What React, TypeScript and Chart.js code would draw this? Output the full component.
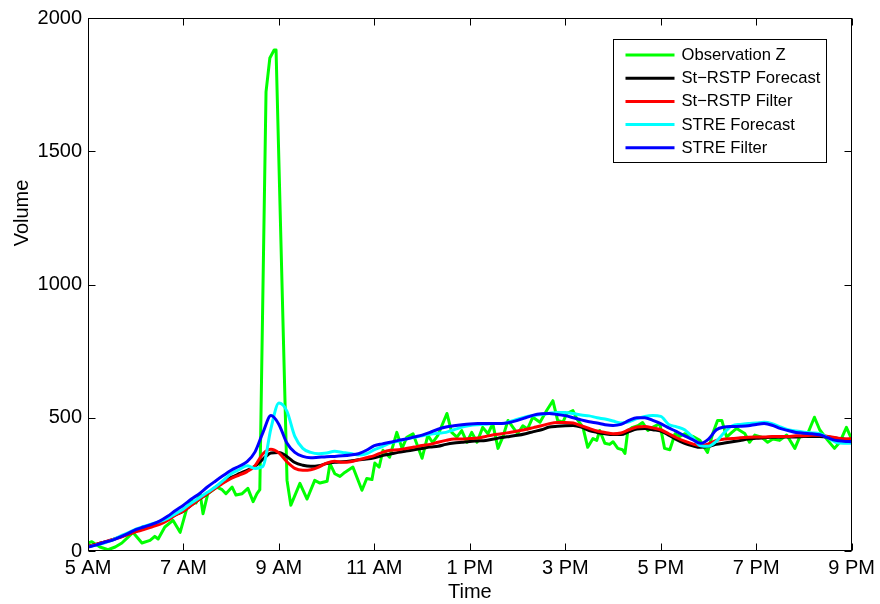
import { useEffect, useRef } from "react";
import { Chart, registerables } from "chart.js";

Chart.register(...registerables);

// ---- axis definitions ----
const xTickValues = [5, 7, 9, 11, 13, 15, 17, 19, 21];
const xTickLabels = ["5 AM", "7 AM", "9 AM", "11 AM", "1 PM", "3 PM", "5 PM", "7 PM", "9 PM"];
const yTickValues = [0, 500, 1000, 1500, 2000];

const seriesNames = ["Observation Z", "St\u2212RSTP Forecast", "St\u2212RSTP Filter", "STRE Forecast", "STRE Filter"];
const seriesColors = ["#00ff00", "#000000", "#ff0000", "#00ffff", "#0000ff"];

// ---- observation (hours of day, volume) ----
const obsTimes = [
  5.0, 5.08, 5.25, 5.42, 5.57, 5.71, 5.84, 5.94, 6.13, 6.3, 6.4, 6.47, 6.61, 6.78, 6.93,
  7.07, 7.18, 7.26, 7.35, 7.41, 7.51, 7.7, 7.81, 7.89, 8.02, 8.1, 8.23, 8.35, 8.46, 8.54,
  8.6, 8.73, 8.81, 8.9, 8.94, 9.17, 9.25, 9.44, 9.59, 9.75, 9.86, 10.01, 10.07, 10.17, 10.28,
  10.38, 10.55, 10.74, 10.84, 10.95, 11.01, 11.1, 11.18, 11.32, 11.47, 11.58, 11.68, 11.81, 12.0, 12.12,
  12.22, 12.33, 12.52, 12.62, 12.73, 12.83, 12.94, 13.04, 13.15, 13.27, 13.38, 13.48, 13.59, 13.69, 13.8,
  13.9, 14.0, 14.11, 14.21, 14.32, 14.47, 14.61, 14.74, 14.84, 14.95, 15.03, 15.16, 15.24, 15.37, 15.47,
  15.58, 15.66, 15.72, 15.83, 15.93, 16.0, 16.1, 16.2, 16.25, 16.31, 16.41, 16.52, 16.62, 16.73, 16.83,
  16.98, 17.08, 17.19, 17.3, 17.4, 17.5, 17.67, 17.82, 17.98, 18.09, 18.19, 18.28, 18.38, 18.49, 18.59,
  18.76, 18.86, 18.97, 19.11, 19.24, 19.35, 19.49, 19.64, 19.81, 19.91, 20.08, 20.22, 20.33, 20.5, 20.64,
  20.75, 20.89, 21.0,
];
const obsValues = [
  30, 35, 15, 5, 15, 30, 52, 70, 30, 40, 55, 45, 90, 115, 70,
  160, 190, 180, 215, 140, 215, 240, 230, 215, 240, 210, 215, 235, 185, 215,
  230, 1723, 1850, 1880, 1880, 265, 172, 254, 195, 265, 255, 262, 328, 290, 280,
  295, 315, 228, 272, 268, 330, 315, 378, 352, 445, 385, 427, 440, 348, 434,
  407, 434, 516, 445, 427, 452, 408, 445, 408, 464, 440, 478, 385, 427, 490,
  465, 440, 470, 458, 502, 483, 527, 564, 490, 483, 516, 527, 497, 464, 389,
  422, 415, 452, 404, 400, 410, 385, 380, 366, 452, 464, 470, 482, 452, 464,
  478, 385, 380, 440, 430, 440, 430, 415, 370, 441, 490, 490, 427, 445, 460,
  441, 408, 435, 427, 408, 420, 415, 435, 385, 427, 441, 502, 455, 415, 385,
  408, 464, 420,
];

// ---- estimates, sampled every 10 minutes from 5 AM to 9 PM ----
const startHour = 5;
const stepMinutes = 10;
const rstpForecast = [
  18, 25, 33, 42, 52, 63, 74, 84, 94, 104,
  118, 135, 150, 172, 195, 215, 238, 258, 276, 290,
  303, 318, 345, 368, 370, 355, 332, 322, 318, 320,
  328, 333, 335, 338, 342, 345, 350, 358, 364, 370,
  375, 380, 385, 390, 393, 400, 405, 408, 411, 413,
  415, 420, 426, 430, 434, 440, 448, 455, 465, 468,
  470, 471, 465, 452, 445, 440, 437, 437, 448, 458,
  460, 455, 450, 435, 418, 404, 395, 389, 392, 400,
  405, 410, 415, 420, 423, 425, 427, 427, 428, 428,
  430, 430, 430, 428, 424, 420, 418,
];
const rstpFilter = [
  18, 25, 33, 42, 50, 62, 72, 80, 90, 100,
  115, 135, 150, 172, 195, 215, 235, 255, 272, 285,
  298, 320, 365, 382, 368, 335, 310, 303, 305, 315,
  330, 337, 333, 335, 342, 350, 358, 370, 378, 380,
  385, 390, 396, 400, 408, 415, 420, 420, 422, 424,
  430, 436, 440, 445, 450, 456, 463, 470, 478, 482,
  482, 480, 470, 460, 450, 445, 440, 443, 455, 465,
  467, 462, 455, 440, 425, 412, 402, 396, 402, 415,
  420, 422, 425, 427, 428, 428, 430, 430, 430, 432,
  432, 434, 434, 430, 425, 420, 422,
];
const streForecast = [
  15, 22, 30, 40, 55, 68, 82, 92, 102, 110,
  122, 140, 158, 180, 200, 220, 240, 265, 290, 305,
  320, 310, 318, 460, 555, 525, 430, 385, 370, 365,
  368, 374, 370, 366, 360, 365, 380, 392, 405, 412,
  420, 427, 432, 438, 442, 445, 455, 465, 471, 474,
  476, 478, 478, 485, 495, 503, 508, 512, 517, 520,
  520, 516, 510, 507, 500, 495, 488, 480, 485, 497,
  505, 508, 505, 475, 466, 455, 427, 395, 393, 412,
  445, 470, 475, 478, 480, 483, 478, 466, 455, 450,
  446, 443, 440, 425, 408, 404, 404,
];
const streFilter = [
  15, 22, 32, 40, 52, 65, 80, 90, 100, 112,
  130, 152, 172, 195, 215, 240, 262, 283, 303, 318,
  335, 372, 445, 508, 475, 405, 370, 355, 350, 352,
  354, 355, 357, 360, 365, 378, 395, 402, 408, 415,
  420, 428, 435, 445, 457, 465, 470, 474, 477, 478,
  478, 478, 478, 482, 490, 500, 510, 515, 516, 512,
  508, 500, 492, 485, 480, 474, 471, 475, 490, 500,
  500, 490, 478, 462, 448, 432, 418, 404, 420, 455,
  465, 467, 468, 470, 475, 478, 472, 460, 452, 445,
  442, 440, 436, 425, 415, 412, 410,
];

const sampleTimes = rstpForecast.map((_, i) => startHour + (i * stepMinutes) / 60);
const toPoints = (times: number[], values: number[]) => values.map((v, i) => ({ x: times[i], y: v }));

const FONT = '"Liberation Sans", Arial, Helvetica, sans-serif';

const matlabFrame = {
  id: "matlabFrame",
  afterDraw(chart: any) {
    const { ctx, chartArea: a, scales } = chart;
    ctx.save();
    ctx.strokeStyle = "#000";
    ctx.lineWidth = 1;
    const L = Math.round(a.left) + 0.5;
    const R = Math.round(a.right) - 0.5;
    const T = Math.round(a.top) + 0.5;
    const B = Math.round(a.bottom) - 0.5;
    ctx.strokeRect(L, T, R - L, B - T);
    const tl = 7;
    ctx.beginPath();
    xTickValues.forEach((v) => {
      const px = Math.round(scales.x.getPixelForValue(v)) + 0.5;
      ctx.moveTo(px, B);
      ctx.lineTo(px, B - tl);
      ctx.moveTo(px, T);
      ctx.lineTo(px, T + tl);
    });
    yTickValues.forEach((v) => {
      const py = Math.round(scales.y.getPixelForValue(v)) + 0.5;
      ctx.moveTo(L, py);
      ctx.lineTo(L + tl, py);
      ctx.moveTo(R, py);
      ctx.lineTo(R - tl, py);
    });
    ctx.stroke();

    // axis titles
    ctx.fillStyle = "#000";
    ctx.font = `20px ${FONT}`;
    ctx.textAlign = "center";
    ctx.textBaseline = "middle";
    ctx.fillText("Time", (a.left + a.right) / 2, 592);
    ctx.save();
    ctx.translate(22, 213);
    ctx.rotate(-Math.PI / 2);
    ctx.fillText("Volume", 0, 0);
    ctx.restore();

    // legend
    const bw = 213;
    const bh = 123;
    const bx = Math.round(a.right) - 239 + 0.5;
    const by = Math.round(a.top) + 21 + 0.5;
    ctx.fillStyle = "#fff";
    ctx.fillRect(bx, by, bw, bh);
    ctx.strokeStyle = "#000";
    ctx.lineWidth = 1;
    ctx.strokeRect(bx, by, bw, bh);
    ctx.font = `16.6px ${FONT}`;
    ctx.textAlign = "left";
    seriesNames.forEach((name, i) => {
      const y = by + 15.5 + i * 23.2;
      ctx.strokeStyle = seriesColors[i];
      ctx.lineWidth = 3;
      ctx.beginPath();
      ctx.moveTo(bx + 12, y);
      ctx.lineTo(bx + 61, y);
      ctx.stroke();
      ctx.fillStyle = "#000";
      ctx.fillText(name, bx + 68, y + 0.5);
    });
    ctx.restore();
  },
};

export default function App() {
  const ref = useRef<HTMLCanvasElement | null>(null);

  useEffect(() => {
    if (!ref.current) return;
    const smooth = { cubicInterpolationMode: "monotone" as const };
    const chart = new Chart(ref.current, {
      type: "line",
      data: {
        datasets: [
          { label: seriesNames[0], data: toPoints(obsTimes, obsValues), borderColor: seriesColors[0], order: 5, tension: 0 },
          { label: seriesNames[1], data: toPoints(sampleTimes, rstpForecast), borderColor: seriesColors[1], order: 4, ...smooth },
          { label: seriesNames[2], data: toPoints(sampleTimes, rstpFilter), borderColor: seriesColors[2], order: 3, ...smooth },
          { label: seriesNames[3], data: toPoints(sampleTimes, streForecast), borderColor: seriesColors[3], order: 2, ...smooth },
          { label: seriesNames[4], data: toPoints(sampleTimes, streFilter), borderColor: seriesColors[4], order: 1, ...smooth },
        ],
      },
      options: {
        responsive: false,
        animation: false,
        events: [],
        elements: {
          point: { radius: 0 },
          line: { borderWidth: 3, fill: false, borderJoinStyle: "round", borderCapStyle: "round" },
        },
        layout: { padding: { left: 0, top: 16, right: 28, bottom: 0 } },
        plugins: { legend: { display: false }, tooltip: { enabled: false }, title: { display: false } },
        scales: {
          x: {
            type: "linear",
            min: 5,
            max: 21,
            grid: { display: false, drawTicks: false },
            border: { display: false },
            afterBuildTicks: (scale: any) => {
              scale.ticks = xTickValues.map((v) => ({ value: v }));
            },
            afterFit: (scale: any) => {
              scale.height = 53;
            },
            ticks: {
              autoSkip: false,
              maxRotation: 0,
              padding: 5,
              color: "#000",
              font: { family: FONT, size: 20 },
              callback: (v: any) => {
                const i = xTickValues.indexOf(Number(v));
                return i >= 0 ? xTickLabels[i] : "";
              },
            },
          },
          y: {
            type: "linear",
            min: 0,
            max: 2000,
            grid: { display: false, drawTicks: false },
            border: { display: false },
            afterBuildTicks: (scale: any) => {
              scale.ticks = yTickValues.map((v) => ({ value: v }));
            },
            afterFit: (scale: any) => {
              scale.width = 88;
            },
            ticks: {
              padding: 6,
              color: "#000",
              font: { family: FONT, size: 20 },
              callback: (v: any) => String(v),
            },
          },
        },
      },
      plugins: [matlabFrame],
    });
    return () => chart.destroy();
  }, []);

  return (
    <div style={{ position: "absolute", left: 0, top: 0, width: 880, height: 604, background: "#fff" }}>
      <canvas ref={ref} width={880} height={604} style={{ display: "block" }} />
    </div>
  );
}
